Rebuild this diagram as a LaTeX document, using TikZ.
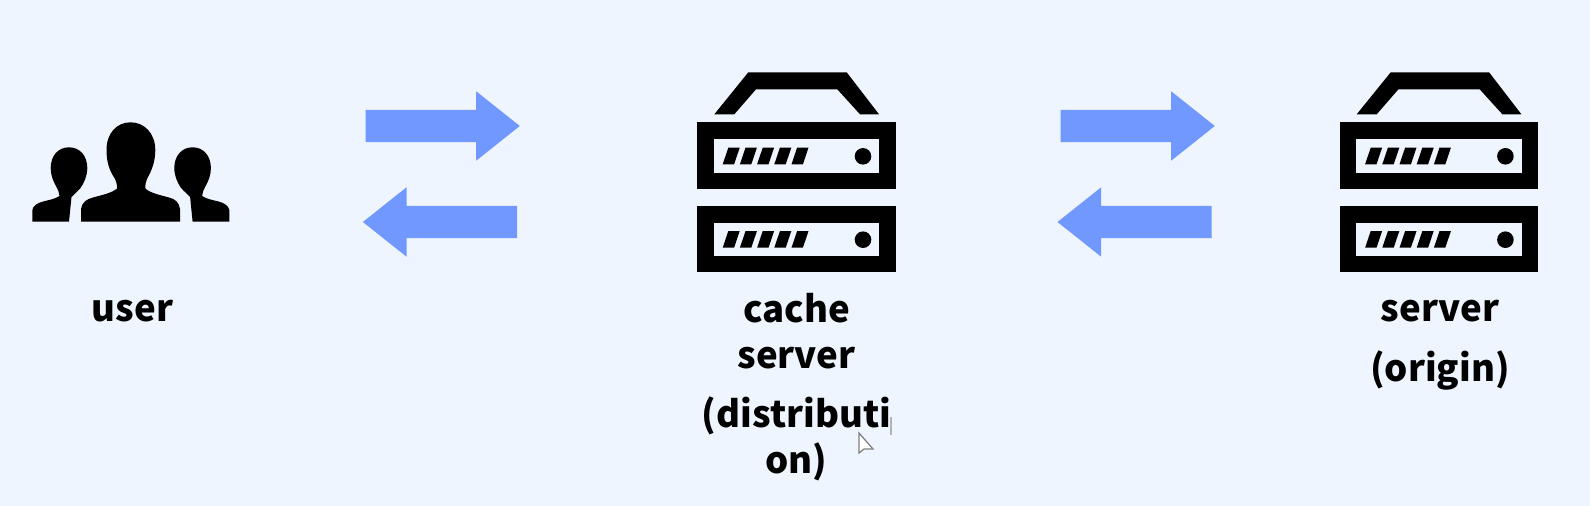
\documentclass[tikz,border=0pt]{standalone}
\usepackage{fontspec}
\setmainfont{Noto Sans CJK KR}
\usetikzlibrary{shapes.arrows}

\definecolor{pagebg}{HTML}{EEF5FF}
\definecolor{arrowblue}{HTML}{7098FF}

\tikzset{
	flow/.style={shape=single arrow, fill=arrowblue, inner sep=0pt, text height=0.31cm, text depth=0pt, minimum width=0.68cm, single arrow head extend=0.185cm, single arrow tip angle=77, single arrow head indent=0pt, minimum height=1.54cm},
	caption/.style={align=center, font=\fontsize{10.4}{13.1}\selectfont\bfseries, text=black, inner sep=0pt},
	server/.pic={
		% Handle and the two drawers:
		\fill (17, -8) -- (51, -50) -- (149.4, -50) -- (181.7, -8) -- (162.7, -8) -- (140, -33) -- (58.7, -33) -- (37, -8) -- cycle;
		\foreach \dy in {0, 83.4} {
			\fill (0, \dy) rectangle (198.7, \dy + 66.7);
			\fill[pagebg] (16.7, \dy + 17) rectangle (182, \dy + 50.7);
			\foreach \bar in {0, 1, 2, 3, 4}
				\fill (25.4 + 17.2*\bar, \dy + 42) -- (31 + 17.2*\bar, \dy + 25.4) -- (42.4 + 17.2*\bar, \dy + 25.4) -- (36.8 + 17.2*\bar, \dy + 42) -- cycle;
			\fill (165.7, \dy + 34) circle [radius=8.3];
		}
	},
	sideuser/.pic={
		\fill (32.3, 221.7) -- (32.3, 210) .. controls (33, 206) and (37, 203) .. (43, 201.5) .. controls (49, 200) and (55, 199) .. (59.5, 196) .. controls (59.5, 193) and (58, 190) .. (56.5, 187) .. controls (53, 181) and (50.7, 175) .. (50.7, 168) .. controls (50.7, 156) and (58, 147.3) .. (69, 147.3) .. controls (80, 147.3) and (87.3, 156) .. (87.3, 168) .. controls (87.3, 176) and (84, 183) .. (80.5, 188) .. controls (77, 192) and (74, 194) .. (71.5, 197) -- (69, 221.7) -- cycle;
	},
	mainuser/.pic={
		\fill (81, 221.7) -- (81, 209) .. controls (82, 202) and (87, 199) .. (93, 197.5) .. controls (102, 195) and (112, 193) .. (117, 188.5) .. controls (117.5, 185) and (116, 181) .. (114.5, 178) .. controls (109, 170) and (106.5, 161) .. (106.5, 150) .. controls (106.5, 133) and (117, 122.3) .. (130.5, 122.3) .. controls (144, 122.3) and (155.3, 133) .. (155.3, 150) .. controls (155.3, 161) and (152, 170) .. (147.5, 178) .. controls (146, 181) and (145, 185) .. (145.5, 188.5) .. controls (150, 193) and (160, 195) .. (169, 197.5) .. controls (175, 199) and (179, 202) .. (180, 209) -- (180, 221.7) -- cycle;
	},
	pointer/.style={draw=gray, line width=0.35pt, fill=white}
}

\begin{document}
\begin{tikzpicture}[x=0.01cm, y=-0.01cm]
	\fill[pagebg] (0, 0) rectangle (1590, 506);
	% Users:
	\pic (userL) at (0, 0) {sideuser};
	\pic (userM) at (0, 0) {mainuser};
	\pic[xscale=-1] (userR) at (261.6, 0) {sideuser};
	\node[caption, anchor=base](N1) at (132.5, 321.7){user};
	% Servers:
	\pic (cache) at (697.3, 122.3) {server};
	\pic (origin) at (1339.7, 122.3) {server};
	\node[caption, anchor=north](N2) at (796.5, 293){cache\\server\\[3.5pt](distributi\\on)};
	\node[caption, anchor=north](N3) at (1440, 299){server\\[4pt](origin)};
	% Arrows:
	\node[flow, anchor=tail](A1) at (365, 126){};
	\node[flow, anchor=tail, shape border rotate=180](A2) at (517.7, 222){};
	\node[flow, anchor=tail](A3) at (1060, 126){};
	\node[flow, anchor=tail, shape border rotate=180](A4) at (1212.3, 222){};
	% Mouse pointer:
	\draw[pointer] (859, 433) -- (859, 453) -- (864, 449) -- (873, 449) -- cycle;
	\draw[gray!60, line width=0.35pt] (891, 417) -- (891, 435);
\end{tikzpicture}
\end{document}
